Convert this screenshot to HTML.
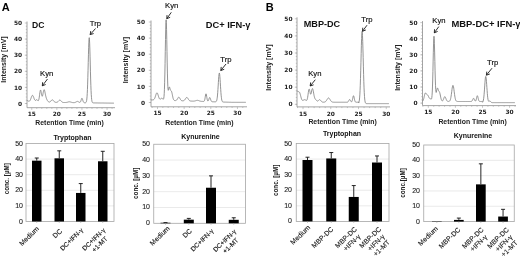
<!DOCTYPE html>
<html><head><meta charset="utf-8"><title>Figure</title>
<style>
html,body{margin:0;padding:0;background:#fff;}
body{width:520px;height:257px;overflow:hidden;}
svg{display:block;font-family:"Liberation Sans", sans-serif;filter:blur(0.3px);}
.tk{font-family:"DejaVu Sans","Liberation Sans",sans-serif;font-weight:bold;font-size:5.9px;fill:#222;}
</style></head><body>
<svg width="520" height="257" viewBox="0 0 520 257">
<rect width="520" height="257" fill="#fff"/>
<path d="M27 21.50 V107.7 H115" fill="none" stroke="#9a9a9a" stroke-width="0.9"/>
<path d="M24.8 103.50 H27M24.8 87.40 H27M24.8 71.30 H27M24.8 55.20 H27M24.8 39.10 H27M24.8 23.00 H27M25.8 103.50 H27M25.8 100.28 H27M25.8 97.06 H27M25.8 93.84 H27M25.8 90.62 H27M25.8 87.40 H27M25.8 84.18 H27M25.8 80.96 H27M25.8 77.74 H27M25.8 74.52 H27M25.8 71.30 H27M25.8 68.08 H27M25.8 64.86 H27M25.8 61.64 H27M25.8 58.42 H27M25.8 55.20 H27M25.8 51.98 H27M25.8 48.76 H27M25.8 45.54 H27M25.8 42.32 H27M25.8 39.10 H27M25.8 35.88 H27M25.8 32.66 H27M25.8 29.44 H27M25.8 26.22 H27M31.75 107.7 V109.9M36.77 107.7 V108.9M41.79 107.7 V108.9M46.81 107.7 V108.9M51.83 107.7 V108.9M56.85 107.7 V109.9M61.87 107.7 V108.9M66.89 107.7 V108.9M71.91 107.7 V108.9M76.93 107.7 V108.9M81.95 107.7 V109.9M86.97 107.7 V108.9M91.99 107.7 V108.9M97.01 107.7 V108.9M102.03 107.7 V108.9M107.05 107.7 V109.9M112.07 107.7 V108.9" fill="none" stroke="#9a9a9a" stroke-width="0.55"/>
<text class="tk" x="22.1" y="105.60" text-anchor="end">0</text>
<text class="tk" x="22.1" y="89.50" text-anchor="end">10</text>
<text class="tk" x="22.1" y="73.40" text-anchor="end">20</text>
<text class="tk" x="22.1" y="57.30" text-anchor="end">30</text>
<text class="tk" x="22.1" y="41.20" text-anchor="end">40</text>
<text class="tk" x="22.1" y="25.10" text-anchor="end">50</text>
<text class="tk" x="31.75" y="116.30" text-anchor="middle">15</text>
<text class="tk" x="56.85" y="116.30" text-anchor="middle">20</text>
<text class="tk" x="81.95" y="116.30" text-anchor="middle">25</text>
<text class="tk" x="107.05" y="116.30" text-anchor="middle">30</text>
<path d="M27.00 100.47L27.20 100.52L27.40 100.59L27.60 100.69L27.80 100.79L28.00 100.90L28.20 101.01L28.41 101.11L28.61 101.19L28.81 101.24L29.01 101.26L29.21 101.23L29.41 101.15L29.61 101.02L29.81 100.81L30.01 100.54L30.21 100.19L30.41 99.78L30.61 99.30L30.82 98.77L31.02 98.21L31.22 97.64L31.42 97.08L31.62 96.56L31.82 96.10L32.02 95.74L32.22 95.49L32.42 95.37L32.62 95.39L32.82 95.54L33.02 95.82L33.22 96.20L33.43 96.68L33.63 97.21L33.83 97.77L34.03 98.33L34.23 98.87L34.43 99.35L34.63 99.75L34.83 100.07L35.03 100.28L35.23 100.39L35.43 100.40L35.63 100.33L35.84 100.20L36.04 100.03L36.24 99.88L36.44 99.75L36.64 99.69L36.84 99.71L37.04 99.80L37.24 99.97L37.44 100.18L37.64 100.41L37.84 100.60L38.04 100.71L38.24 100.70L38.45 100.50L38.65 100.08L38.85 99.40L39.05 98.44L39.25 97.23L39.45 95.82L39.65 94.31L39.85 92.84L40.05 91.56L40.25 90.61L40.45 90.10L40.65 90.09L40.86 90.55L41.06 91.41L41.26 92.52L41.46 93.70L41.66 94.79L41.86 95.64L42.06 96.14L42.26 96.25L42.46 95.97L42.66 95.35L42.86 94.46L43.06 93.42L43.26 92.35L43.47 91.34L43.67 90.52L43.87 89.95L44.07 89.70L44.27 89.77L44.47 90.15L44.67 90.80L44.87 91.66L45.07 92.64L45.27 93.68L45.47 94.71L45.67 95.69L45.88 96.56L46.08 97.34L46.28 98.01L46.48 98.59L46.68 99.09L46.88 99.53L47.08 99.93L47.28 100.29L47.48 100.61L47.68 100.91L47.88 101.17L48.08 101.40L48.28 101.60L48.49 101.76L48.69 101.89L48.89 101.98L49.09 102.04L49.29 102.06L49.49 102.05L49.69 102.00L49.89 101.92L50.09 101.80L50.29 101.65L50.49 101.47L50.69 101.25L50.90 101.02L51.10 100.78L51.30 100.53L51.50 100.30L51.70 100.10L51.90 99.95L52.10 99.84L52.30 99.80L52.50 99.83L52.70 99.92L52.90 100.06L53.10 100.26L53.30 100.48L53.51 100.73L53.71 100.98L53.91 101.23L54.11 101.46L54.31 101.66L54.51 101.84L54.71 101.98L54.91 102.10L55.11 102.19L55.31 102.26L55.51 102.31L55.71 102.34L55.92 102.36L56.12 102.37L56.32 102.37L56.52 102.35L56.72 102.33L56.92 102.28L57.12 102.22L57.32 102.13L57.52 102.02L57.72 101.88L57.92 101.72L58.12 101.53L58.32 101.32L58.53 101.09L58.73 100.86L58.93 100.63L59.13 100.43L59.33 100.26L59.53 100.14L59.73 100.07L59.93 100.07L60.13 100.12L60.33 100.23L60.53 100.39L60.73 100.59L60.94 100.81L61.14 101.05L61.34 101.28L61.54 101.51L61.74 101.71L61.94 101.89L62.14 102.04L62.34 102.16L62.54 102.26L62.74 102.34L62.94 102.40L63.14 102.44L63.34 102.47L63.55 102.49L63.75 102.51L63.95 102.52L64.15 102.52L64.35 102.53L64.55 102.53L64.75 102.53L64.95 102.53L65.15 102.53L65.35 102.52L65.55 102.52L65.75 102.51L65.96 102.50L66.16 102.48L66.36 102.45L66.56 102.43L66.76 102.39L66.96 102.35L67.16 102.30L67.36 102.25L67.56 102.19L67.76 102.13L67.96 102.07L68.16 102.01L68.36 101.95L68.57 101.90L68.77 101.85L68.97 101.82L69.17 101.80L69.37 101.79L69.57 101.80L69.77 101.82L69.97 101.86L70.17 101.90L70.37 101.96L70.57 102.02L70.77 102.09L70.98 102.15L71.18 102.22L71.38 102.28L71.58 102.34L71.78 102.40L71.98 102.45L72.18 102.49L72.38 102.52L72.58 102.55L72.78 102.58L72.98 102.59L73.18 102.61L73.38 102.62L73.59 102.62L73.79 102.62L73.99 102.62L74.19 102.61L74.39 102.59L74.59 102.56L74.79 102.53L74.99 102.47L75.19 102.41L75.39 102.33L75.59 102.24L75.79 102.13L76.00 102.01L76.20 101.89L76.40 101.77L76.60 101.66L76.80 101.56L77.00 101.48L77.20 101.43L77.40 101.41L77.60 101.43L77.80 101.47L78.00 101.55L78.20 101.65L78.40 101.76L78.61 101.88L78.81 102.01L79.01 102.13L79.21 102.24L79.41 102.32L79.61 102.38L79.81 102.39L80.01 102.33L80.21 102.19L80.41 101.94L80.61 101.56L80.81 101.05L81.02 100.44L81.22 99.77L81.42 99.13L81.62 98.61L81.82 98.31L82.02 98.27L82.22 98.50L82.42 98.97L82.62 99.59L82.82 100.27L83.02 100.93L83.22 101.49L83.42 101.94L83.63 102.27L83.83 102.49L84.03 102.63L84.23 102.71L84.43 102.75L84.63 102.77L84.83 102.78L85.03 102.79L85.23 102.78L85.43 102.75L85.63 102.70L85.83 102.59L86.04 102.40L86.24 102.05L86.44 101.45L86.64 100.49L86.84 98.99L87.04 96.78L87.24 93.66L87.44 89.48L87.64 84.15L87.84 77.71L88.04 70.38L88.24 62.54L88.44 54.78L88.65 47.77L88.85 42.21L89.05 38.71L89.25 37.66L89.45 39.19L89.65 43.13L89.85 49.02L90.05 56.23L90.25 64.07L90.45 71.85L90.65 79.04L90.85 85.29L91.06 90.41L91.26 94.38L91.46 97.32L91.66 99.39L91.86 100.77L92.06 101.66L92.26 102.21L92.46 102.53L92.66 102.71L92.86 102.81L93.06 102.86L93.26 102.88L93.46 102.90L93.67 102.91L93.87 102.91L94.07 102.91L94.27 102.92L94.47 102.92L94.67 102.92L94.87 102.93L95.07 102.93L95.27 102.93L95.47 102.93L95.67 102.94L95.87 102.94L96.08 102.94L96.28 102.94L96.48 102.95L96.68 102.95L96.88 102.95L97.08 102.95L97.28 102.96L97.48 102.96L97.68 102.96L97.88 102.96L98.08 102.97L98.28 102.97L98.48 102.97L98.69 102.97L98.89 102.98L99.09 102.98L99.29 102.98L99.49 102.98L99.69 102.99L99.89 102.99L100.09 102.99L100.29 102.99L100.49 103.00L100.69 103.00L100.89 103.00L101.10 103.01L101.30 103.01L101.50 103.01L101.70 103.01L101.90 103.02L102.10 103.02L102.30 103.02L102.50 103.02L102.70 103.03L102.90 103.03L103.10 103.03L103.30 103.03L103.50 103.04L103.71 103.04L103.91 103.04L104.11 103.04L104.31 103.05L104.51 103.05L104.71 103.05L104.91 103.05L105.11 103.06L105.31 103.06L105.51 103.06L105.71 103.06L105.91 103.07L106.12 103.07L106.32 103.07L106.52 103.07L106.72 103.08L106.92 103.08L107.12 103.08L107.32 103.08L107.52 103.09L107.72 103.09L107.92 103.09L108.12 103.10L108.32 103.10L108.52 103.10L108.73 103.10L108.93 103.11L109.13 103.11L109.33 103.11L109.53 103.11L109.73 103.12L109.93 103.12L110.13 103.12L110.33 103.12L110.53 103.13L110.73 103.13L110.93 103.13L111.14 103.13L111.34 103.14L111.54 103.14L111.74 103.14L111.94 103.14L112.14 103.15L112.34 103.15L112.54 103.15L112.74 103.15L112.94 103.16L113.14 103.16L113.34 103.16L113.54 103.16L113.75 103.17L113.95 103.17" fill="none" stroke="#808080" stroke-width="0.85" stroke-linejoin="round"/>
<text x="32" y="28" font-size="8.6" font-weight="bold" fill="#111">DC</text>
<text x="89.8" y="25.8" font-size="7.7" fill="#111" stroke="#111" stroke-width="0.15">Trp</text>
<path d="M95.5 28.5 L90.2 34.6 M90.76 31.04 L90.2 34.6 L93.64 33.55" fill="none" stroke="#1a1a1a" stroke-width="0.9"/>
<text x="40" y="76" font-size="7.7" fill="#111" stroke="#111" stroke-width="0.15">Kyn</text>
<path d="M47.5 79 L42.3 85.8 M42.64 82.22 L42.3 85.8 L45.67 84.53" fill="none" stroke="#1a1a1a" stroke-width="0.9"/>
<text transform="translate(6.4 59.5) rotate(-90)" font-size="7" font-weight="bold" text-anchor="middle" fill="#222">Intensity [mV]</text>
<text x="69.5" y="125" font-size="6.9" font-weight="bold" text-anchor="middle" fill="#222">Retention Time (min)</text>
<path d="M151 20.50 V106.8 H247" fill="none" stroke="#9a9a9a" stroke-width="0.9"/>
<path d="M148.8 102.50 H151M148.8 86.40 H151M148.8 70.30 H151M148.8 54.20 H151M148.8 38.10 H151M148.8 22.00 H151M149.8 102.50 H151M149.8 99.28 H151M149.8 96.06 H151M149.8 92.84 H151M149.8 89.62 H151M149.8 86.40 H151M149.8 83.18 H151M149.8 79.96 H151M149.8 76.74 H151M149.8 73.52 H151M149.8 70.30 H151M149.8 67.08 H151M149.8 63.86 H151M149.8 60.64 H151M149.8 57.42 H151M149.8 54.20 H151M149.8 50.98 H151M149.8 47.76 H151M149.8 44.54 H151M149.8 41.32 H151M149.8 38.10 H151M149.8 34.88 H151M149.8 31.66 H151M149.8 28.44 H151M149.8 25.22 H151M152.17 106.8 V108.0M157.50 106.8 V109.0M162.83 106.8 V108.0M168.16 106.8 V108.0M173.49 106.8 V108.0M178.82 106.8 V108.0M184.15 106.8 V109.0M189.48 106.8 V108.0M194.81 106.8 V108.0M200.14 106.8 V108.0M205.47 106.8 V108.0M210.80 106.8 V109.0M216.13 106.8 V108.0M221.46 106.8 V108.0M226.79 106.8 V108.0M232.12 106.8 V108.0M237.45 106.8 V109.0M242.78 106.8 V108.0" fill="none" stroke="#9a9a9a" stroke-width="0.55"/>
<text class="tk" x="145" y="104.60" text-anchor="end">0</text>
<text class="tk" x="145" y="88.50" text-anchor="end">10</text>
<text class="tk" x="145" y="72.40" text-anchor="end">20</text>
<text class="tk" x="145" y="56.30" text-anchor="end">30</text>
<text class="tk" x="145" y="40.20" text-anchor="end">40</text>
<text class="tk" x="145" y="24.10" text-anchor="end">50</text>
<text class="tk" x="157.50" y="115.40" text-anchor="middle">15</text>
<text class="tk" x="184.15" y="115.40" text-anchor="middle">20</text>
<text class="tk" x="210.80" y="115.40" text-anchor="middle">25</text>
<text class="tk" x="237.45" y="115.40" text-anchor="middle">30</text>
<path d="M151.00 99.89L151.21 99.89L151.43 99.90L151.64 99.91L151.85 99.91L152.07 99.91L152.28 99.91L152.49 99.91L152.71 99.90L152.92 99.87L153.13 99.84L153.35 99.78L153.56 99.69L153.77 99.56L153.98 99.39L154.20 99.15L154.41 98.84L154.62 98.45L154.84 97.98L155.05 97.43L155.26 96.82L155.48 96.15L155.69 95.45L155.90 94.77L156.12 94.13L156.33 93.59L156.54 93.17L156.76 92.91L156.97 92.82L157.18 92.92L157.40 93.20L157.61 93.64L157.82 94.20L158.04 94.84L158.25 95.54L158.46 96.24L158.68 96.91L158.89 97.51L159.10 98.04L159.31 98.47L159.53 98.79L159.74 99.00L159.95 99.11L160.17 99.13L160.38 99.07L160.59 98.94L160.81 98.78L161.02 98.61L161.23 98.45L161.45 98.33L161.66 98.27L161.87 98.29L162.09 98.37L162.30 98.52L162.51 98.72L162.73 98.93L162.94 99.12L163.15 99.25L163.37 99.22L163.58 98.91L163.79 98.11L164.01 96.51L164.22 93.70L164.43 89.25L164.64 82.75L164.86 74.02L165.07 63.30L165.28 51.34L165.50 39.42L165.71 29.18L165.92 22.25L166.14 19.83L166.35 22.35L166.56 29.33L166.78 39.54L166.99 51.30L167.20 62.93L167.42 73.09L167.63 80.96L167.84 86.29L168.06 89.26L168.27 90.33L168.48 90.11L168.70 89.19L168.91 88.12L169.12 87.30L169.34 86.93L169.55 87.08L169.76 87.65L169.97 88.43L170.19 89.23L170.40 89.88L170.61 90.33L170.83 90.59L171.04 90.77L171.25 90.97L171.47 91.32L171.68 91.86L171.89 92.62L172.11 93.57L172.32 94.62L172.53 95.71L172.75 96.75L172.96 97.69L173.17 98.48L173.39 99.12L173.60 99.60L173.81 99.95L174.03 100.20L174.24 100.36L174.45 100.46L174.67 100.52L174.88 100.56L175.09 100.57L175.30 100.57L175.52 100.56L175.73 100.52L175.94 100.47L176.16 100.38L176.37 100.26L176.58 100.09L176.80 99.87L177.01 99.60L177.22 99.28L177.44 98.92L177.65 98.54L177.86 98.16L178.08 97.81L178.29 97.52L178.50 97.30L178.72 97.20L178.93 97.21L179.14 97.33L179.36 97.55L179.57 97.86L179.78 98.23L180.00 98.62L180.21 99.01L180.42 99.38L180.63 99.71L180.85 100.00L181.06 100.23L181.27 100.41L181.49 100.54L181.70 100.64L181.91 100.71L182.13 100.76L182.34 100.78L182.55 100.80L182.77 100.80L182.98 100.79L183.19 100.77L183.41 100.73L183.62 100.67L183.83 100.59L184.05 100.48L184.26 100.33L184.47 100.14L184.69 99.92L184.90 99.65L185.11 99.35L185.33 99.03L185.54 98.69L185.75 98.36L185.96 98.06L186.18 97.79L186.39 97.59L186.60 97.47L186.82 97.43L187.03 97.48L187.24 97.62L187.46 97.84L187.67 98.11L187.88 98.43L188.10 98.78L188.31 99.13L188.52 99.46L188.74 99.78L188.95 100.05L189.16 100.29L189.38 100.49L189.59 100.65L189.80 100.77L190.02 100.87L190.23 100.94L190.44 100.99L190.66 101.03L190.87 101.06L191.08 101.08L191.29 101.09L191.51 101.10L191.72 101.11L191.93 101.12L192.15 101.13L192.36 101.13L192.57 101.14L192.79 101.14L193.00 101.14L193.21 101.14L193.43 101.13L193.64 101.12L193.85 101.11L194.07 101.09L194.28 101.06L194.49 101.03L194.71 100.99L194.92 100.95L195.13 100.89L195.35 100.83L195.56 100.76L195.77 100.69L195.99 100.62L196.20 100.55L196.41 100.49L196.62 100.43L196.84 100.38L197.05 100.35L197.26 100.33L197.48 100.33L197.69 100.34L197.90 100.37L198.12 100.42L198.33 100.48L198.54 100.55L198.76 100.63L198.97 100.71L199.18 100.80L199.40 100.88L199.61 100.96L199.82 101.03L200.04 101.10L200.25 101.16L200.46 101.21L200.68 101.26L200.89 101.30L201.10 101.33L201.32 101.35L201.53 101.38L201.74 101.39L201.95 101.41L202.17 101.42L202.38 101.43L202.59 101.44L202.81 101.45L203.02 101.46L203.23 101.46L203.45 101.45L203.66 101.42L203.87 101.35L204.09 101.21L204.30 100.93L204.51 100.45L204.73 99.72L204.94 98.72L205.15 97.49L205.37 96.16L205.58 94.96L205.79 94.12L206.01 93.82L206.22 94.14L206.43 95.01L206.65 96.23L206.86 97.56L207.07 98.79L207.28 99.78L207.50 100.47L207.71 100.87L207.92 101.00L208.14 100.92L208.35 100.63L208.56 100.17L208.78 99.58L208.99 98.92L209.20 98.29L209.42 97.78L209.63 97.51L209.84 97.52L210.06 97.81L210.27 98.33L210.48 98.99L210.70 99.66L210.91 100.28L211.12 100.78L211.34 101.15L211.55 101.40L211.76 101.56L211.98 101.65L212.19 101.70L212.40 101.73L212.61 101.74L212.83 101.75L213.04 101.76L213.25 101.77L213.47 101.78L213.68 101.78L213.89 101.79L214.11 101.79L214.32 101.80L214.53 101.81L214.75 101.81L214.96 101.81L215.17 101.81L215.39 101.80L215.60 101.78L215.81 101.72L216.03 101.61L216.24 101.42L216.45 101.10L216.67 100.59L216.88 99.81L217.09 98.67L217.31 97.10L217.52 95.04L217.73 92.46L217.94 89.42L218.16 86.05L218.37 82.55L218.58 79.21L218.80 76.33L219.01 74.22L219.22 73.11L219.44 73.13L219.65 74.28L219.86 76.43L220.08 79.33L220.29 82.70L220.50 86.21L220.72 89.59L220.93 92.63L221.14 95.20L221.36 97.27L221.57 98.84L221.78 99.98L222.00 100.77L222.21 101.29L222.42 101.62L222.64 101.82L222.85 101.93L223.06 102.00L223.27 102.04L223.49 102.06L223.70 102.08L223.91 102.09L224.13 102.10L224.34 102.10L224.55 102.11L224.77 102.12L224.98 102.12L225.19 102.13L225.41 102.14L225.62 102.14L225.83 102.15L226.05 102.16L226.26 102.16L226.47 102.17L226.69 102.17L226.90 102.18L227.11 102.19L227.33 102.19L227.54 102.20L227.75 102.21L227.97 102.21L228.18 102.22L228.39 102.23L228.60 102.23L228.82 102.24L229.03 102.25L229.24 102.25L229.46 102.26L229.67 102.27L229.88 102.27L230.10 102.28L230.31 102.28L230.52 102.29L230.74 102.30L230.95 102.30L231.16 102.31L231.38 102.32L231.59 102.32L231.80 102.33L232.02 102.34L232.23 102.34L232.44 102.34L232.66 102.34L232.87 102.34L233.08 102.34L233.30 102.34L233.51 102.34L233.72 102.34L233.93 102.34L234.15 102.34L234.36 102.34L234.57 102.34L234.79 102.34L235.00 102.34L235.21 102.34L235.43 102.34L235.64 102.34L235.85 102.34L236.07 102.34L236.28 102.34L236.49 102.34L236.71 102.34L236.92 102.34L237.13 102.34L237.35 102.34L237.56 102.34L237.77 102.34L237.99 102.34L238.20 102.34L238.41 102.34L238.63 102.34L238.84 102.34L239.05 102.34L239.26 102.34L239.48 102.34L239.69 102.34L239.90 102.34L240.12 102.34L240.33 102.34L240.54 102.34L240.76 102.34L240.97 102.34L241.18 102.34L241.40 102.34L241.61 102.34L241.82 102.34L242.04 102.34L242.25 102.34L242.46 102.34L242.68 102.34L242.89 102.34L243.10 102.34L243.32 102.34L243.53 102.34L243.74 102.34L243.96 102.34L244.17 102.34L244.38 102.34L244.59 102.34L244.81 102.34L245.02 102.34L245.23 102.34L245.45 102.34L245.66 102.34L245.87 102.34" fill="none" stroke="#808080" stroke-width="0.85" stroke-linejoin="round"/>
<text x="205.8" y="28" font-size="9.3" font-weight="bold" fill="#111">DC+ IFN-γ</text>
<text x="165" y="7.7" font-size="7.7" fill="#111" stroke="#111" stroke-width="0.15">Kyn</text>
<path d="M171.3 12.3 L166.8 18.7 M167.00 15.11 L166.8 18.7 L170.12 17.30" fill="none" stroke="#1a1a1a" stroke-width="0.9"/>
<text x="220.3" y="61.6" font-size="7.7" fill="#111" stroke="#111" stroke-width="0.15">Trp</text>
<path d="M226 64 L220.8 70.5 M221.22 66.92 L220.8 70.5 L224.20 69.31" fill="none" stroke="#1a1a1a" stroke-width="0.9"/>
<text transform="translate(128.2 60) rotate(-90)" font-size="7" font-weight="bold" text-anchor="middle" fill="#222">Intensity [mV]</text>
<text x="199.4" y="124.6" font-size="6.9" font-weight="bold" text-anchor="middle" fill="#222">Retention Time (min)</text>
<path d="M297 17.30 V106.9 H390" fill="none" stroke="#9a9a9a" stroke-width="0.9"/>
<path d="M294.8 104.30 H297M294.8 87.20 H297M294.8 70.10 H297M294.8 53.00 H297M294.8 35.90 H297M294.8 18.80 H297M295.8 104.30 H297M295.8 100.88 H297M295.8 97.46 H297M295.8 94.04 H297M295.8 90.62 H297M295.8 87.20 H297M295.8 83.78 H297M295.8 80.36 H297M295.8 76.94 H297M295.8 73.52 H297M295.8 70.10 H297M295.8 66.68 H297M295.8 63.26 H297M295.8 59.84 H297M295.8 56.42 H297M295.8 53.00 H297M295.8 49.58 H297M295.8 46.16 H297M295.8 42.74 H297M295.8 39.32 H297M295.8 35.90 H297M295.8 32.48 H297M295.8 29.06 H297M295.8 25.64 H297M295.8 22.22 H297M297.45 106.9 V108.10000000000001M303.00 106.9 V109.10000000000001M308.55 106.9 V108.10000000000001M314.10 106.9 V108.10000000000001M319.65 106.9 V108.10000000000001M325.20 106.9 V108.10000000000001M330.75 106.9 V109.10000000000001M336.30 106.9 V108.10000000000001M341.85 106.9 V108.10000000000001M347.40 106.9 V108.10000000000001M352.95 106.9 V108.10000000000001M358.50 106.9 V109.10000000000001M364.05 106.9 V108.10000000000001M369.60 106.9 V108.10000000000001M375.15 106.9 V108.10000000000001M380.70 106.9 V108.10000000000001M386.25 106.9 V109.10000000000001" fill="none" stroke="#9a9a9a" stroke-width="0.55"/>
<text class="tk" x="292.5" y="106.40" text-anchor="end">0</text>
<text class="tk" x="292.5" y="89.30" text-anchor="end">10</text>
<text class="tk" x="292.5" y="72.20" text-anchor="end">20</text>
<text class="tk" x="292.5" y="55.10" text-anchor="end">30</text>
<text class="tk" x="292.5" y="38.00" text-anchor="end">40</text>
<text class="tk" x="292.5" y="20.90" text-anchor="end">50</text>
<text class="tk" x="303.00" y="115.50" text-anchor="middle">15</text>
<text class="tk" x="330.75" y="115.50" text-anchor="middle">20</text>
<text class="tk" x="358.50" y="115.50" text-anchor="middle">25</text>
<text class="tk" x="386.25" y="115.50" text-anchor="middle">30</text>
<path d="M297.00 91.61L297.22 91.29L297.44 91.17L297.67 91.19L297.89 91.29L298.11 91.41L298.33 91.52L298.55 91.61L298.78 91.69L299.00 91.79L299.22 91.95L299.44 92.22L299.66 92.61L299.89 93.15L300.11 93.82L300.33 94.60L300.55 95.46L300.77 96.33L301.00 97.19L301.22 97.98L301.44 98.69L301.66 99.27L301.88 99.74L302.11 100.07L302.33 100.29L302.55 100.40L302.77 100.42L302.99 100.37L303.22 100.28L303.44 100.16L303.66 100.03L303.88 99.90L304.10 99.80L304.33 99.72L304.55 99.68L304.77 99.68L304.99 99.73L305.21 99.81L305.44 99.93L305.66 100.07L305.88 100.21L306.10 100.34L306.32 100.42L306.55 100.41L306.77 100.26L306.99 99.92L307.21 99.32L307.43 98.44L307.66 97.25L307.88 95.81L308.10 94.20L308.32 92.56L308.54 91.07L308.77 89.92L308.99 89.25L309.21 89.14L309.43 89.57L309.65 90.42L309.88 91.51L310.10 92.62L310.32 93.54L310.54 94.11L310.76 94.23L310.99 93.88L311.21 93.14L311.43 92.13L311.65 91.01L311.87 89.95L312.10 89.11L312.32 88.61L312.54 88.53L312.76 88.87L312.98 89.60L313.21 90.62L313.43 91.84L313.65 93.14L313.87 94.40L314.09 95.55L314.32 96.54L314.54 97.35L314.76 97.99L314.98 98.49L315.20 98.89L315.43 99.21L315.65 99.50L315.87 99.76L316.09 100.02L316.31 100.27L316.54 100.50L316.76 100.70L316.98 100.87L317.20 100.99L317.42 101.04L317.65 101.03L317.87 100.95L318.09 100.82L318.31 100.63L318.53 100.41L318.76 100.19L318.98 99.98L319.20 99.81L319.42 99.70L319.64 99.67L319.87 99.71L320.09 99.84L320.31 100.03L320.53 100.27L320.75 100.54L320.98 100.83L321.20 101.10L321.42 101.35L321.64 101.57L321.86 101.75L322.09 101.90L322.31 102.01L322.53 102.09L322.75 102.14L322.97 102.18L323.20 102.20L323.42 102.21L323.64 102.21L323.86 102.19L324.08 102.17L324.31 102.14L324.53 102.09L324.75 102.03L324.97 101.94L325.19 101.82L325.42 101.67L325.64 101.49L325.86 101.27L326.08 101.01L326.30 100.72L326.53 100.39L326.75 100.03L326.97 99.67L327.19 99.30L327.41 98.94L327.64 98.62L327.86 98.35L328.08 98.15L328.30 98.02L328.52 97.97L328.75 98.01L328.97 98.14L329.19 98.34L329.41 98.61L329.63 98.93L329.86 99.28L330.08 99.65L330.30 100.01L330.52 100.37L330.74 100.70L330.97 101.00L331.19 101.26L331.41 101.48L331.63 101.66L331.85 101.81L332.08 101.93L332.30 102.02L332.52 102.09L332.74 102.14L332.96 102.18L333.19 102.20L333.41 102.22L333.63 102.23L333.85 102.24L334.07 102.24L334.30 102.24L334.52 102.25L334.74 102.25L334.96 102.25L335.18 102.25L335.41 102.25L335.63 102.25L335.85 102.25L336.07 102.25L336.29 102.25L336.52 102.25L336.74 102.25L336.96 102.25L337.18 102.25L337.40 102.25L337.63 102.25L337.85 102.25L338.07 102.25L338.29 102.25L338.51 102.25L338.74 102.25L338.96 102.25L339.18 102.25L339.40 102.25L339.62 102.25L339.85 102.25L340.07 102.25L340.29 102.25L340.51 102.25L340.73 102.25L340.96 102.25L341.18 102.25L341.40 102.25L341.62 102.25L341.84 102.25L342.07 102.25L342.29 102.25L342.51 102.25L342.73 102.25L342.95 102.25L343.18 102.25L343.40 102.25L343.62 102.25L343.84 102.25L344.06 102.25L344.29 102.25L344.51 102.25L344.73 102.25L344.95 102.25L345.17 102.25L345.40 102.25L345.62 102.25L345.84 102.25L346.06 102.25L346.28 102.25L346.51 102.25L346.73 102.24L346.95 102.23L347.17 102.21L347.39 102.17L347.62 102.10L347.84 101.97L348.06 101.78L348.28 101.50L348.50 101.13L348.73 100.71L348.95 100.27L349.17 99.88L349.39 99.61L349.61 99.51L349.84 99.60L350.06 99.87L350.28 100.25L350.50 100.68L350.72 101.10L350.95 101.45L351.17 101.69L351.39 101.80L351.61 101.76L351.83 101.52L352.06 101.07L352.28 100.36L352.50 99.43L352.72 98.33L352.94 97.24L353.17 96.34L353.39 95.82L353.61 95.81L353.83 96.30L354.05 97.19L354.28 98.28L354.50 99.38L354.72 100.33L354.94 101.07L355.16 101.58L355.39 101.90L355.61 102.08L355.83 102.17L356.05 102.22L356.27 102.24L356.50 102.24L356.72 102.25L356.94 102.25L357.16 102.24L357.38 102.24L357.61 102.23L357.83 102.21L358.05 102.16L358.27 102.06L358.49 101.89L358.72 102.94L358.94 102.39L359.16 101.49L359.38 100.08L359.60 97.94L359.83 94.89L360.05 90.71L360.27 85.28L360.49 78.59L360.71 70.80L360.94 62.27L361.16 53.56L361.38 45.40L361.60 38.56L361.82 33.77L362.05 31.56L362.27 32.20L362.49 35.61L362.71 41.40L362.93 48.92L363.16 57.43L363.38 66.13L363.60 74.39L363.82 81.73L364.04 87.86L364.27 92.72L364.49 96.38L364.71 99.00L364.93 100.78L365.15 101.95L365.38 102.67L365.60 103.10L365.82 103.35L366.04 103.48L366.26 103.55L366.49 103.59L366.71 103.60L366.93 103.61L367.15 103.61L367.37 103.62L367.60 103.62L367.82 103.62L368.04 103.62L368.26 103.62L368.48 103.62L368.71 103.62L368.93 103.62L369.15 103.62L369.37 103.62L369.59 103.62L369.82 103.62L370.04 103.62L370.26 103.62L370.48 103.62L370.70 103.62L370.93 103.62L371.15 103.62L371.37 103.62L371.59 103.62L371.81 103.62L372.04 103.62L372.26 103.62L372.48 103.62L372.70 103.62L372.92 103.62L373.15 103.62L373.37 103.62L373.59 103.62L373.81 103.62L374.03 103.62L374.26 103.62L374.48 103.62L374.70 103.62L374.92 103.62L375.14 103.62L375.37 103.62L375.59 103.62L375.81 103.62L376.03 103.62L376.25 103.62L376.48 103.62L376.70 103.62L376.92 103.62L377.14 103.62L377.36 103.62L377.59 103.62L377.81 103.62L378.03 103.62L378.25 103.62L378.47 103.62L378.70 103.62L378.92 103.62L379.14 103.62L379.36 103.62L379.58 103.62L379.81 103.62L380.03 103.62L380.25 103.62L380.47 103.62L380.69 103.62L380.92 103.62L381.14 103.62L381.36 103.62L381.58 103.62L381.80 103.62L382.03 103.62L382.25 103.62L382.47 103.62L382.69 103.62L382.91 103.62L383.14 103.62L383.36 103.62L383.58 103.62L383.80 103.62L384.02 103.62L384.25 103.62L384.47 103.62L384.69 103.62L384.91 103.62L385.13 103.62L385.36 103.62L385.58 103.62L385.80 103.62L386.02 103.62L386.24 103.62L386.47 103.62L386.69 103.62L386.91 103.62L387.13 103.62L387.35 103.62L387.58 103.62L387.80 103.62L388.02 103.62L388.24 103.62L388.46 103.62L388.69 103.62L388.91 103.62" fill="none" stroke="#808080" stroke-width="0.85" stroke-linejoin="round"/>
<text x="303.8" y="26.8" font-size="9.1" font-weight="bold" fill="#111">MBP-DC</text>
<text x="361.3" y="21.8" font-size="7.7" fill="#111" stroke="#111" stroke-width="0.15">Trp</text>
<path d="M367 25.2 L362.5 31.3 M362.78 27.71 L362.5 31.3 L365.85 29.98" fill="none" stroke="#1a1a1a" stroke-width="0.9"/>
<text x="308.2" y="76.3" font-size="7.7" fill="#111" stroke="#111" stroke-width="0.15">Kyn</text>
<path d="M315.3 79.7 L310.2 86 M310.64 82.43 L310.2 86 L313.60 84.83" fill="none" stroke="#1a1a1a" stroke-width="0.9"/>
<text transform="translate(271 67.5) rotate(-90)" font-size="7" font-weight="bold" text-anchor="middle" fill="#222">Intensity [mV]</text>
<text x="342.6" y="124" font-size="6.9" font-weight="bold" text-anchor="middle" fill="#222">Retention Time (min)</text>
<path d="M422.5 21.10 V105.6 H516" fill="none" stroke="#9a9a9a" stroke-width="0.9"/>
<path d="M420.3 103.10 H422.5M420.3 87.00 H422.5M420.3 70.90 H422.5M420.3 54.80 H422.5M420.3 38.70 H422.5M420.3 22.60 H422.5M421.3 103.10 H422.5M421.3 99.88 H422.5M421.3 96.66 H422.5M421.3 93.44 H422.5M421.3 90.22 H422.5M421.3 87.00 H422.5M421.3 83.78 H422.5M421.3 80.56 H422.5M421.3 77.34 H422.5M421.3 74.12 H422.5M421.3 70.90 H422.5M421.3 67.68 H422.5M421.3 64.46 H422.5M421.3 61.24 H422.5M421.3 58.02 H422.5M421.3 54.80 H422.5M421.3 51.58 H422.5M421.3 48.36 H422.5M421.3 45.14 H422.5M421.3 41.92 H422.5M421.3 38.70 H422.5M421.3 35.48 H422.5M421.3 32.26 H422.5M421.3 29.04 H422.5M421.3 25.82 H422.5M422.88 105.6 V106.8M428.30 105.6 V107.8M433.72 105.6 V106.8M439.14 105.6 V106.8M444.56 105.6 V106.8M449.98 105.6 V106.8M455.40 105.6 V107.8M460.82 105.6 V106.8M466.24 105.6 V106.8M471.66 105.6 V106.8M477.08 105.6 V106.8M482.50 105.6 V107.8M487.92 105.6 V106.8M493.34 105.6 V106.8M498.76 105.6 V106.8M504.18 105.6 V106.8M509.60 105.6 V107.8M515.02 105.6 V106.8" fill="none" stroke="#9a9a9a" stroke-width="0.55"/>
<text class="tk" x="417.5" y="105.20" text-anchor="end">0</text>
<text class="tk" x="417.5" y="89.10" text-anchor="end">10</text>
<text class="tk" x="417.5" y="73.00" text-anchor="end">20</text>
<text class="tk" x="417.5" y="56.90" text-anchor="end">30</text>
<text class="tk" x="417.5" y="40.80" text-anchor="end">40</text>
<text class="tk" x="417.5" y="24.70" text-anchor="end">50</text>
<text class="tk" x="428.30" y="114.20" text-anchor="middle">15</text>
<text class="tk" x="455.40" y="114.20" text-anchor="middle">20</text>
<text class="tk" x="482.50" y="114.20" text-anchor="middle">25</text>
<text class="tk" x="509.60" y="114.20" text-anchor="middle">30</text>
<path d="M422.50 101.22L422.72 101.04L422.93 100.77L423.15 100.40L423.37 99.90L423.58 99.25L423.80 98.46L424.02 97.56L424.23 96.58L424.45 95.59L424.67 94.67L424.88 93.89L425.10 93.32L425.32 92.99L425.54 92.91L425.75 93.04L425.97 93.32L426.19 93.67L426.40 94.02L426.62 94.32L426.84 94.53L427.05 94.67L427.27 94.77L427.49 94.88L427.70 95.05L427.92 95.31L428.14 95.68L428.35 96.12L428.57 96.62L428.79 97.13L429.00 97.58L429.22 97.96L429.44 98.25L429.65 98.45L429.87 98.57L430.09 98.66L430.30 98.74L430.52 98.84L430.74 98.96L430.96 99.09L431.17 99.16L431.39 99.06L431.61 98.60L431.82 97.52L432.04 95.46L432.26 92.06L432.47 86.97L432.69 80.05L432.91 71.47L433.12 61.85L433.34 52.22L433.56 43.92L433.77 38.27L433.99 36.25L434.21 38.22L434.42 43.81L434.64 52.02L434.86 61.49L435.07 70.85L435.29 79.01L435.51 85.31L435.72 89.52L435.94 91.79L436.16 92.48L436.38 92.08L436.59 91.06L436.81 89.86L437.03 88.82L437.24 88.16L437.46 87.97L437.68 88.21L437.89 88.75L438.11 89.42L438.33 90.07L438.54 90.60L438.76 90.98L438.98 91.26L439.19 91.53L439.41 91.88L439.63 92.38L439.84 93.09L440.06 93.98L440.28 95.00L440.49 96.09L440.71 97.16L440.93 98.15L441.14 99.01L441.36 99.71L441.58 100.24L441.80 100.61L442.01 100.83L442.23 100.92L442.45 100.89L442.66 100.74L442.88 100.48L443.10 100.12L443.31 99.67L443.53 99.13L443.75 98.56L443.96 97.98L444.18 97.46L444.40 97.03L444.61 96.76L444.83 96.66L445.05 96.76L445.26 97.03L445.48 97.45L445.70 97.98L445.91 98.56L446.13 99.14L446.35 99.68L446.56 100.15L446.78 100.53L447.00 100.84L447.22 101.06L447.43 101.22L447.65 101.32L447.87 101.39L448.08 101.43L448.30 101.45L448.52 101.45L448.73 101.43L448.95 101.40L449.17 101.33L449.38 101.23L449.60 101.06L449.82 100.82L450.03 100.47L450.25 99.98L450.47 99.31L450.68 98.45L450.90 97.38L451.12 96.09L451.33 94.62L451.55 93.00L451.77 91.31L451.98 89.64L452.20 88.12L452.42 86.85L452.64 85.93L452.85 85.45L453.07 85.45L453.29 85.93L453.50 86.84L453.72 88.11L453.94 89.63L454.15 91.30L454.37 92.99L454.59 94.61L454.80 96.09L455.02 97.37L455.24 98.45L455.45 99.31L455.67 99.97L455.89 100.47L456.10 100.82L456.32 101.06L456.54 101.23L456.75 101.33L456.97 101.40L457.19 101.44L457.40 101.46L457.62 101.48L457.84 101.48L458.06 101.49L458.27 101.49L458.49 101.49L458.71 101.49L458.92 101.49L459.14 101.49L459.36 101.49L459.57 101.49L459.79 101.49L460.01 101.49L460.22 101.49L460.44 101.49L460.66 101.49L460.87 101.49L461.09 101.49L461.31 101.49L461.52 101.49L461.74 101.49L461.96 101.49L462.17 101.49L462.39 101.49L462.61 101.49L462.82 101.49L463.04 101.49L463.26 101.49L463.48 101.49L463.69 101.49L463.91 101.49L464.13 101.49L464.34 101.49L464.56 101.49L464.78 101.49L464.99 101.49L465.21 101.49L465.43 101.49L465.64 101.49L465.86 101.49L466.08 101.49L466.29 101.49L466.51 101.49L466.73 101.49L466.94 101.49L467.16 101.49L467.38 101.49L467.59 101.49L467.81 101.49L468.03 101.49L468.24 101.49L468.46 101.49L468.68 101.49L468.90 101.49L469.11 101.49L469.33 101.49L469.55 101.49L469.76 101.49L469.98 101.49L470.20 101.49L470.41 101.49L470.63 101.49L470.85 101.48L471.06 101.46L471.28 101.43L471.50 101.36L471.71 101.24L471.93 101.05L472.15 100.77L472.36 100.39L472.58 99.92L472.80 99.41L473.01 98.91L473.23 98.52L473.45 98.30L473.66 98.30L473.88 98.52L474.10 98.91L474.32 99.40L474.53 99.92L474.75 100.37L474.97 100.73L475.18 100.96L475.40 101.03L475.62 100.94L475.83 100.64L476.05 100.13L476.27 99.39L476.48 98.47L476.70 97.48L476.92 96.57L477.13 95.93L477.35 95.69L477.57 95.92L477.78 96.56L478.00 97.47L478.22 98.47L478.43 99.40L478.65 100.15L478.87 100.70L479.08 101.06L479.30 101.28L479.52 101.39L479.74 101.45L479.95 101.47L480.17 101.48L480.39 101.49L480.60 101.49L480.82 101.49L481.04 101.49L481.25 101.49L481.47 101.48L481.69 101.47L481.90 101.44L482.12 101.39L482.34 101.31L482.55 102.28L482.77 102.02L482.99 101.60L483.20 100.96L483.42 100.02L483.64 98.70L483.85 96.95L484.07 94.73L484.29 92.07L484.50 89.08L484.72 85.91L484.94 82.82L485.16 80.06L485.37 77.94L485.59 76.67L485.81 76.41L486.02 77.18L486.24 78.90L486.46 81.36L486.67 84.32L486.89 87.48L487.11 90.59L487.32 93.42L487.54 95.85L487.76 97.81L487.97 99.28L488.19 100.31L488.41 100.95L488.62 101.28L488.84 101.38L489.06 101.33L489.27 101.19L489.49 101.06L489.71 100.99L489.92 101.01L490.14 101.12L490.36 101.32L490.58 101.57L490.79 101.83L491.01 102.07L491.23 102.26L491.44 102.40L491.66 102.49L491.88 102.55L492.09 102.58L492.31 102.60L492.53 102.61L492.74 102.61L492.96 102.62L493.18 102.62L493.39 102.62L493.61 102.62L493.83 102.62L494.04 102.62L494.26 102.62L494.48 102.62L494.69 102.62L494.91 102.62L495.13 102.62L495.34 102.62L495.56 102.62L495.78 102.62L496.00 102.62L496.21 102.62L496.43 102.62L496.65 102.62L496.86 102.62L497.08 102.62L497.30 102.62L497.51 102.62L497.73 102.62L497.95 102.62L498.16 102.62L498.38 102.62L498.60 102.62L498.81 102.62L499.03 102.62L499.25 102.62L499.46 102.62L499.68 102.62L499.90 102.62L500.11 102.62L500.33 102.62L500.55 102.62L500.76 102.62L500.98 102.62L501.20 102.62L501.42 102.62L501.63 102.62L501.85 102.62L502.07 102.62L502.28 102.62L502.50 102.62L502.72 102.62L502.93 102.62L503.15 102.62L503.37 102.62L503.58 102.62L503.80 102.62L504.02 102.62L504.23 102.62L504.45 102.62L504.67 102.62L504.88 102.62L505.10 102.62L505.32 102.62L505.53 102.62L505.75 102.62L505.97 102.62L506.18 102.62L506.40 102.62L506.62 102.62L506.84 102.62L507.05 102.62L507.27 102.62L507.49 102.62L507.70 102.62L507.92 102.62L508.14 102.62L508.35 102.62L508.57 102.62L508.79 102.62L509.00 102.62L509.22 102.62L509.44 102.62L509.65 102.62L509.87 102.62L510.09 102.62L510.30 102.62L510.52 102.62L510.74 102.62L510.95 102.62L511.17 102.62L511.39 102.62L511.60 102.62L511.82 102.62L512.04 102.62L512.26 102.62L512.47 102.62L512.69 102.62L512.91 102.62L513.12 102.62L513.34 102.62L513.56 102.62L513.77 102.62L513.99 102.62L514.21 102.62L514.42 102.62L514.64 102.62L514.86 102.62" fill="none" stroke="#808080" stroke-width="0.85" stroke-linejoin="round"/>
<text x="451.5" y="27.3" font-size="9.4" font-weight="bold" fill="#111">MBP-DC+ IFN-γ</text>
<text x="432.3" y="22.6" font-size="7.7" fill="#111" stroke="#111" stroke-width="0.15">Kyn</text>
<path d="M438.8 26.6 L434.3 32.8 M434.55 29.21 L434.3 32.8 L437.64 31.45" fill="none" stroke="#1a1a1a" stroke-width="0.9"/>
<text x="487" y="65.2" font-size="7.7" fill="#111" stroke="#111" stroke-width="0.15">Trp</text>
<path d="M492 68.2 L486.4 75.2 M486.82 71.62 L486.4 75.2 L489.80 74.01" fill="none" stroke="#1a1a1a" stroke-width="0.9"/>
<text transform="translate(399.6 67.7) rotate(-90)" font-size="7" font-weight="bold" text-anchor="middle" fill="#222">Intensity [mV]</text>
<text x="472.6" y="123.6" font-size="6.9" font-weight="bold" text-anchor="middle" fill="#222">Retention Time (min)</text>
<text x="1.8" y="10.8" font-size="11" font-weight="bold" fill="#000">A</text>
<text x="265.8" y="11.4" font-size="11" font-weight="bold" fill="#000">B</text>
<path d="M26 205.90 H114M26 190.30 H114M26 174.70 H114M26 159.10 H114" fill="none" stroke="#dcdcdc" stroke-width="0.6"/>
<rect x="26" y="143.5" width="88" height="78.0" fill="none" stroke="#a6a6a6" stroke-width="0.8"/>
<text x="23" y="223.50" font-size="7" text-anchor="end" fill="#1a1a1a" stroke="#1a1a1a" stroke-width="0.1">0</text>
<text x="23" y="207.90" font-size="7" text-anchor="end" fill="#1a1a1a" stroke="#1a1a1a" stroke-width="0.1">10</text>
<text x="23" y="192.30" font-size="7" text-anchor="end" fill="#1a1a1a" stroke="#1a1a1a" stroke-width="0.1">20</text>
<text x="23" y="176.70" font-size="7" text-anchor="end" fill="#1a1a1a" stroke="#1a1a1a" stroke-width="0.1">30</text>
<text x="23" y="161.10" font-size="7" text-anchor="end" fill="#1a1a1a" stroke="#1a1a1a" stroke-width="0.1">40</text>
<text x="23" y="145.50" font-size="7" text-anchor="end" fill="#1a1a1a" stroke="#1a1a1a" stroke-width="0.1">50</text>
<text x="72.5" y="139.9" font-size="7" font-weight="bold" text-anchor="middle" fill="#111">Tryptophan</text>
<text transform="translate(8.9 178.7) rotate(-90)" font-size="6.3" font-weight="bold" text-anchor="middle" fill="#222">conc. [µM]</text>
<rect x="32" y="160.66" width="9.5" height="60.84" fill="#000"/>
<path d="M36.75 160.66 V158.01 M34.75 158.01 H38.75" fill="none" stroke="#1a1a1a" stroke-width="0.95"/>
<path d="M36.75 221.5 V223.0" stroke="#a6a6a6" stroke-width="0.6"/>
<g transform="translate(39.40 229.40) rotate(-44)">
<text x="-12.18" y="0.0" font-size="6.85" text-anchor="middle" fill="#1a1a1a" stroke="#1a1a1a" stroke-width="0.12">Medium</text>
</g>
<rect x="54.5" y="158.32" width="9.5" height="63.18" fill="#000"/>
<path d="M59.25 158.32 V150.83 M57.25 150.83 H61.25" fill="none" stroke="#1a1a1a" stroke-width="0.95"/>
<path d="M59.25 221.5 V223.0" stroke="#a6a6a6" stroke-width="0.6"/>
<g transform="translate(62.45 231.70) rotate(-44)">
<text x="-4.95" y="0.0" font-size="6.85" text-anchor="middle" fill="#1a1a1a" stroke="#1a1a1a" stroke-width="0.12">DC</text>
</g>
<rect x="76" y="192.95" width="9.5" height="28.55" fill="#000"/>
<path d="M80.75 192.95 V183.59 M78.75 183.59 H82.75" fill="none" stroke="#1a1a1a" stroke-width="0.95"/>
<path d="M80.75 221.5 V223.0" stroke="#a6a6a6" stroke-width="0.6"/>
<g transform="translate(83.55 230.70) rotate(-44)">
<text x="-14.53" y="0.0" font-size="6.5" text-anchor="middle" fill="#1a1a1a" stroke="#1a1a1a" stroke-width="0.12">DC+IFN-γ</text>
</g>
<rect x="98" y="161.28" width="9.5" height="60.22" fill="#000"/>
<path d="M102.75 161.28 V151.30 M100.75 151.30 H104.75" fill="none" stroke="#1a1a1a" stroke-width="0.95"/>
<path d="M102.75 221.5 V223.0" stroke="#a6a6a6" stroke-width="0.6"/>
<g transform="translate(105.75 230.70) rotate(-44)">
<text x="-14.53" y="0.0" font-size="6.5" text-anchor="middle" fill="#1a1a1a" stroke="#1a1a1a" stroke-width="0.12">DC+IFN-γ</text>
<text x="-13.83" y="7.8" font-size="6.5" text-anchor="middle" fill="#1a1a1a" stroke="#1a1a1a" stroke-width="0.12">+1-MT</text>
</g>
<path d="M153.75 207.49 H245.5M153.75 191.68 H245.5M153.75 175.87 H245.5M153.75 160.06 H245.5" fill="none" stroke="#dcdcdc" stroke-width="0.6"/>
<rect x="153.75" y="144.25" width="91.75" height="79.05000000000001" fill="none" stroke="#a6a6a6" stroke-width="0.8"/>
<text x="150" y="225.30" font-size="7" text-anchor="end" fill="#1a1a1a" stroke="#1a1a1a" stroke-width="0.1">0</text>
<text x="150" y="209.49" font-size="7" text-anchor="end" fill="#1a1a1a" stroke="#1a1a1a" stroke-width="0.1">10</text>
<text x="150" y="193.68" font-size="7" text-anchor="end" fill="#1a1a1a" stroke="#1a1a1a" stroke-width="0.1">20</text>
<text x="150" y="177.87" font-size="7" text-anchor="end" fill="#1a1a1a" stroke="#1a1a1a" stroke-width="0.1">30</text>
<text x="150" y="162.06" font-size="7" text-anchor="end" fill="#1a1a1a" stroke="#1a1a1a" stroke-width="0.1">40</text>
<text x="150" y="146.25" font-size="7" text-anchor="end" fill="#1a1a1a" stroke="#1a1a1a" stroke-width="0.1">50</text>
<text x="200.5" y="139.2" font-size="7" font-weight="bold" text-anchor="middle" fill="#111">Kynurenine</text>
<text transform="translate(137.6 183.3) rotate(-90)" font-size="6.3" font-weight="bold" text-anchor="middle" fill="#222">conc. [µM]</text>
<rect x="160.5" y="222.75" width="10" height="0.55" fill="#000"/>
<path d="M165.50 222.75 V222.59 M163.50 222.59 H167.50" fill="none" stroke="#1a1a1a" stroke-width="0.95"/>
<path d="M165.50 223.3 V224.8" stroke="#a6a6a6" stroke-width="0.6"/>
<g transform="translate(170.10 229.00) rotate(-44)">
<text x="-12.18" y="0.0" font-size="6.85" text-anchor="middle" fill="#1a1a1a" stroke="#1a1a1a" stroke-width="0.12">Medium</text>
</g>
<rect x="183.8" y="219.66" width="10" height="3.64" fill="#000"/>
<path d="M188.80 219.66 V218.40 M186.80 218.40 H190.80" fill="none" stroke="#1a1a1a" stroke-width="0.95"/>
<path d="M188.80 223.3 V224.8" stroke="#a6a6a6" stroke-width="0.6"/>
<g transform="translate(192.40 231.50) rotate(-44)">
<text x="-4.95" y="0.0" font-size="6.85" text-anchor="middle" fill="#1a1a1a" stroke="#1a1a1a" stroke-width="0.12">DC</text>
</g>
<rect x="206" y="187.73" width="10" height="35.57" fill="#000"/>
<path d="M211.00 187.73 V175.87 M209.00 175.87 H213.00" fill="none" stroke="#1a1a1a" stroke-width="0.95"/>
<path d="M211.00 223.3 V224.8" stroke="#a6a6a6" stroke-width="0.6"/>
<g transform="translate(214.10 231.50) rotate(-44)">
<text x="-14.53" y="0.0" font-size="6.5" text-anchor="middle" fill="#1a1a1a" stroke="#1a1a1a" stroke-width="0.12">DC+IFN-γ</text>
</g>
<rect x="228.75" y="219.82" width="10" height="3.48" fill="#000"/>
<path d="M233.75 219.82 V217.77 M231.75 217.77 H235.75" fill="none" stroke="#1a1a1a" stroke-width="0.95"/>
<path d="M233.75 223.3 V224.8" stroke="#a6a6a6" stroke-width="0.6"/>
<g transform="translate(236.65 232.00) rotate(-44)">
<text x="-14.53" y="0.0" font-size="6.5" text-anchor="middle" fill="#1a1a1a" stroke="#1a1a1a" stroke-width="0.12">DC+IFN-γ</text>
<text x="-13.83" y="7.8" font-size="6.5" text-anchor="middle" fill="#1a1a1a" stroke="#1a1a1a" stroke-width="0.12">+1-MT</text>
</g>
<path d="M296.25 205.82 H389M296.25 190.24 H389M296.25 174.66 H389M296.25 159.08 H389" fill="none" stroke="#dcdcdc" stroke-width="0.6"/>
<rect x="296.25" y="143.5" width="92.75" height="77.9" fill="none" stroke="#a6a6a6" stroke-width="0.8"/>
<text x="292" y="223.40" font-size="7" text-anchor="end" fill="#1a1a1a" stroke="#1a1a1a" stroke-width="0.1">0</text>
<text x="292" y="207.82" font-size="7" text-anchor="end" fill="#1a1a1a" stroke="#1a1a1a" stroke-width="0.1">10</text>
<text x="292" y="192.24" font-size="7" text-anchor="end" fill="#1a1a1a" stroke="#1a1a1a" stroke-width="0.1">20</text>
<text x="292" y="176.66" font-size="7" text-anchor="end" fill="#1a1a1a" stroke="#1a1a1a" stroke-width="0.1">30</text>
<text x="292" y="161.08" font-size="7" text-anchor="end" fill="#1a1a1a" stroke="#1a1a1a" stroke-width="0.1">40</text>
<text x="292" y="145.50" font-size="7" text-anchor="end" fill="#1a1a1a" stroke="#1a1a1a" stroke-width="0.1">50</text>
<text x="342" y="136" font-size="7" font-weight="bold" text-anchor="middle" fill="#111">Tryptophan</text>
<text transform="translate(277.6 180.4) rotate(-90)" font-size="6.3" font-weight="bold" text-anchor="middle" fill="#222">conc. [µM]</text>
<rect x="302.5" y="160.01" width="10" height="61.39" fill="#000"/>
<path d="M307.50 160.01 V157.21 M305.50 157.21 H309.50" fill="none" stroke="#1a1a1a" stroke-width="0.95"/>
<path d="M307.50 221.4 V222.9" stroke="#a6a6a6" stroke-width="0.6"/>
<g transform="translate(310.60 228.15) rotate(-44)">
<text x="-12.18" y="0.0" font-size="6.85" text-anchor="middle" fill="#1a1a1a" stroke="#1a1a1a" stroke-width="0.12">Medium</text>
</g>
<rect x="326.25" y="158.46" width="10" height="62.94" fill="#000"/>
<path d="M331.25 158.46 V152.54 M329.25 152.54 H333.25" fill="none" stroke="#1a1a1a" stroke-width="0.95"/>
<path d="M331.25 221.4 V222.9" stroke="#a6a6a6" stroke-width="0.6"/>
<g transform="translate(333.75 229.75) rotate(-44)">
<text x="-13.51" y="0.0" font-size="6.85" text-anchor="middle" fill="#1a1a1a" stroke="#1a1a1a" stroke-width="0.12">MBP-DC</text>
</g>
<rect x="348.75" y="196.94" width="10" height="24.46" fill="#000"/>
<path d="M353.75 196.94 V185.57 M351.75 185.57 H355.75" fill="none" stroke="#1a1a1a" stroke-width="0.95"/>
<path d="M353.75 221.4 V222.9" stroke="#a6a6a6" stroke-width="0.6"/>
<g transform="translate(357.25 229.75) rotate(-44)">
<text x="-13.51" y="0.0" font-size="6.85" text-anchor="middle" fill="#1a1a1a" stroke="#1a1a1a" stroke-width="0.12">MBP-DC</text>
<text x="-12.81" y="7.8" font-size="6.85" text-anchor="middle" fill="#1a1a1a" stroke="#1a1a1a" stroke-width="0.12">+IFN-γ</text>
</g>
<rect x="372" y="162.51" width="10" height="58.89" fill="#000"/>
<path d="M377.00 162.51 V155.96 M375.00 155.96 H379.00" fill="none" stroke="#1a1a1a" stroke-width="0.95"/>
<path d="M377.00 221.4 V222.9" stroke="#a6a6a6" stroke-width="0.6"/>
<g transform="translate(381.50 229.75) rotate(-44)">
<text x="-13.51" y="0.0" font-size="6.85" text-anchor="middle" fill="#1a1a1a" stroke="#1a1a1a" stroke-width="0.12">MBP-DC</text>
<text x="-12.81" y="7.8" font-size="6.85" text-anchor="middle" fill="#1a1a1a" stroke="#1a1a1a" stroke-width="0.12">+IFN-γ</text>
<text x="-12.81" y="15.6" font-size="6.85" text-anchor="middle" fill="#1a1a1a" stroke="#1a1a1a" stroke-width="0.12">+1-MT</text>
</g>
<path d="M423.75 206.28 H514.25M423.75 190.96 H514.25M423.75 175.64 H514.25M423.75 160.32 H514.25" fill="none" stroke="#dcdcdc" stroke-width="0.6"/>
<rect x="423.75" y="145" width="90.5" height="76.6" fill="none" stroke="#a6a6a6" stroke-width="0.8"/>
<text x="420" y="223.60" font-size="7" text-anchor="end" fill="#1a1a1a" stroke="#1a1a1a" stroke-width="0.1">0</text>
<text x="420" y="208.28" font-size="7" text-anchor="end" fill="#1a1a1a" stroke="#1a1a1a" stroke-width="0.1">10</text>
<text x="420" y="192.96" font-size="7" text-anchor="end" fill="#1a1a1a" stroke="#1a1a1a" stroke-width="0.1">20</text>
<text x="420" y="177.64" font-size="7" text-anchor="end" fill="#1a1a1a" stroke="#1a1a1a" stroke-width="0.1">30</text>
<text x="420" y="162.32" font-size="7" text-anchor="end" fill="#1a1a1a" stroke="#1a1a1a" stroke-width="0.1">40</text>
<text x="420" y="147.00" font-size="7" text-anchor="end" fill="#1a1a1a" stroke="#1a1a1a" stroke-width="0.1">50</text>
<text x="473" y="138" font-size="7" font-weight="bold" text-anchor="middle" fill="#111">Kynurenine</text>
<text transform="translate(405.2 183) rotate(-90)" font-size="6.3" font-weight="bold" text-anchor="middle" fill="#222">conc.[µM]</text>
<rect x="432" y="221.22" width="9.7" height="0.38" fill="#000"/>
<path d="M436.85 221.6 V223.1" stroke="#a6a6a6" stroke-width="0.6"/>
<g transform="translate(438.35 229.25) rotate(-44)">
<text x="-12.18" y="0.0" font-size="6.85" text-anchor="middle" fill="#1a1a1a" stroke="#1a1a1a" stroke-width="0.12">Medium</text>
</g>
<rect x="454" y="219.91" width="9.7" height="1.69" fill="#000"/>
<path d="M458.85 219.91 V218.08 M456.85 218.08 H460.85" fill="none" stroke="#1a1a1a" stroke-width="0.95"/>
<path d="M458.85 221.6 V223.1" stroke="#a6a6a6" stroke-width="0.6"/>
<g transform="translate(460.85 230.25) rotate(-44)">
<text x="-13.51" y="0.0" font-size="6.85" text-anchor="middle" fill="#1a1a1a" stroke="#1a1a1a" stroke-width="0.12">MBP-DC</text>
</g>
<rect x="476" y="184.37" width="9.7" height="37.23" fill="#000"/>
<path d="M480.85 184.37 V163.84 M478.85 163.84 H482.85" fill="none" stroke="#1a1a1a" stroke-width="0.95"/>
<path d="M480.85 221.6 V223.1" stroke="#a6a6a6" stroke-width="0.6"/>
<g transform="translate(484.10 230.25) rotate(-44)">
<text x="-13.51" y="0.0" font-size="6.85" text-anchor="middle" fill="#1a1a1a" stroke="#1a1a1a" stroke-width="0.12">MBP-DC</text>
<text x="-12.81" y="7.8" font-size="6.85" text-anchor="middle" fill="#1a1a1a" stroke="#1a1a1a" stroke-width="0.12">+IFN-γ</text>
</g>
<rect x="498.2" y="216.54" width="9.7" height="5.06" fill="#000"/>
<path d="M503.05 216.54 V209.34 M501.05 209.34 H505.05" fill="none" stroke="#1a1a1a" stroke-width="0.95"/>
<path d="M503.05 221.6 V223.1" stroke="#a6a6a6" stroke-width="0.6"/>
<g transform="translate(509.35 230.25) rotate(-44)">
<text x="-13.51" y="0.0" font-size="6.85" text-anchor="middle" fill="#1a1a1a" stroke="#1a1a1a" stroke-width="0.12">MBP-DC</text>
<text x="-12.81" y="7.8" font-size="6.85" text-anchor="middle" fill="#1a1a1a" stroke="#1a1a1a" stroke-width="0.12">+IFN-γ</text>
<text x="-12.81" y="15.6" font-size="6.85" text-anchor="middle" fill="#1a1a1a" stroke="#1a1a1a" stroke-width="0.12">+1-MT</text>
</g>
</svg>
</body></html>
